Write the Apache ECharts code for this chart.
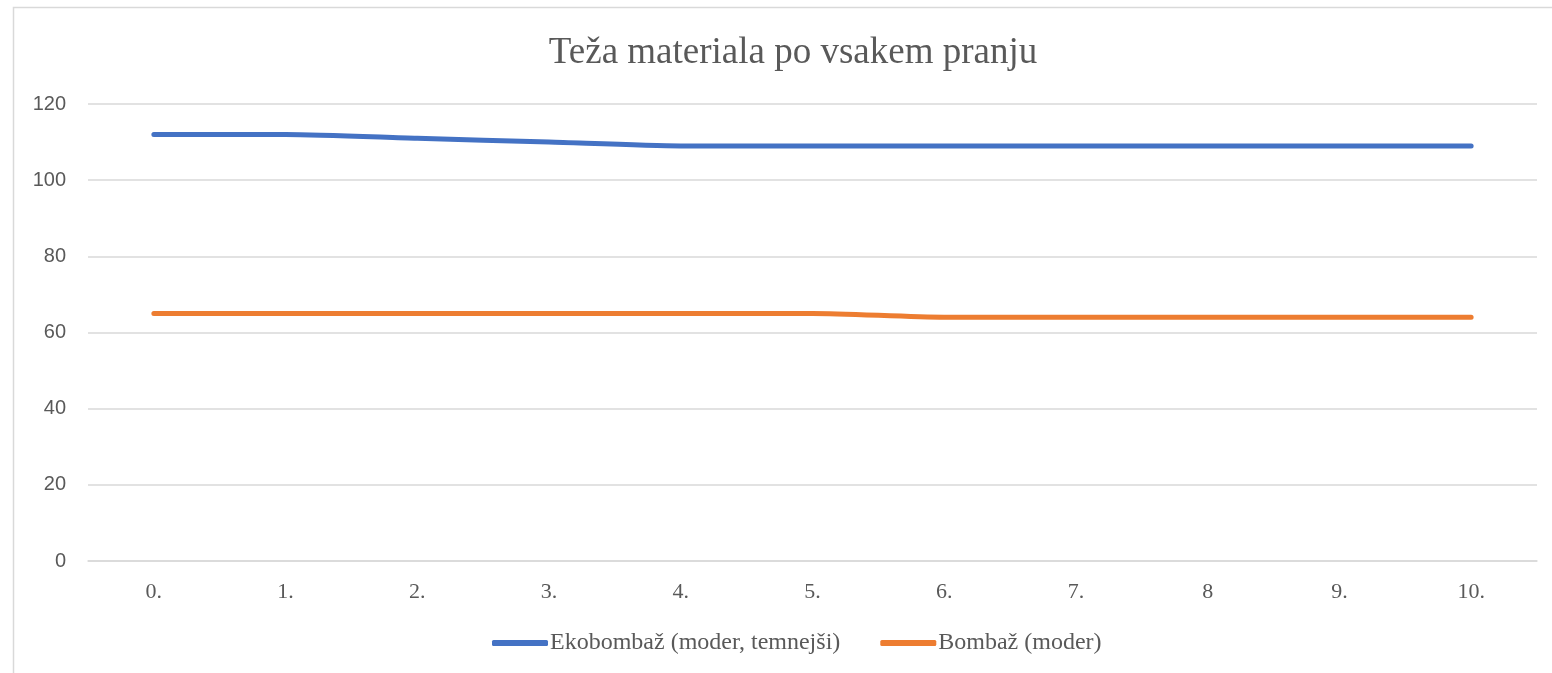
<!DOCTYPE html>
<html>
<head>
<meta charset="utf-8">
<script src="https://cdn.jsdelivr.net/npm/echarts@6/dist/echarts.min.js"></script>
<style>html,body{margin:0;padding:0;background:#fff;}#c{width:1552px;height:673px;}</style>
</head>
<body>
<div id="c"></div>
<script>
const titleText = 'Teža materiala po vsakem pranju';
const categories = ['0.', '1.', '2.', '3.', '4.', '5.', '6.', '7.', '8', '9.', '10.'];
const ekoName = 'Ekobombaž (moder, temnejši)';
const ekoValues = [112, 112, 111, 110, 109, 109, 109, 109, 109, 109, 109];
const bomName = 'Bombaž (moder)';
const bomValues = [65, 65, 65, 65, 65, 65, 64, 64, 64, 64, 64];
const yTicks = [0, 20, 40, 60, 80, 100, 120];

const chart = echarts.init(document.getElementById('c'), null, {renderer: 'canvas'});
chart.setOption({
  animation: false,
  backgroundColor: '#fff',
  graphic: [{
    type: 'rect', left: 11, top: 5,
    shape: {width: 1600, height: 700},
    style: {fill: 'none', stroke: '#d9d9d9', lineWidth: 1.5}
  }],
  title: {
    text: titleText, left: 788, top: 30, textAlign: 'center',
    textStyle: {fontFamily: 'Liberation Serif', fontSize: 37, fontWeight: 'normal', color: '#595959'}
  },
  legend: {
    bottom: 13, left: 487,
    itemWidth: 56, itemHeight: 6, itemGap: 40,
    icon: 'roundRect',
    textStyle: {fontFamily: 'Liberation Serif', fontSize: 24, color: '#595959', padding: [0,0,0,-3]},
    data: [ekoName, bomName]
  },
  grid: {left: 88, right: 15, top: 104, bottom: 112, containLabel: false},
  xAxis: {
    type: 'category', data: categories, boundaryGap: true,
    axisLine: {show: true, lineStyle: {color: '#d9d9d9', width: 1.5}},
    axisTick: {show: false},
    axisLabel: {margin: 20, fontFamily: 'Liberation Serif', fontSize: 22, color: '#595959'}
  },
  yAxis: {
    type: 'value', min: 0, max: yTicks[yTicks.length-1], interval: 20,
    axisLine: {show: false}, axisTick: {show: false},
    axisLabel: {margin: 22, fontFamily: 'Liberation Sans', fontSize: 20, color: '#595959'},
    splitLine: {lineStyle: {color: '#d9d9d9', width: 1.5}}
  },
  series: [
    {name: ekoName, type: 'line', data: ekoValues, smooth: 0.25, showSymbol: false, symbol: 'none',
     color: '#4472c4', lineStyle: {width: 5, color: '#4472c4', cap: 'round'}},
    {name: bomName, type: 'line', data: bomValues, smooth: 0.25, showSymbol: false, symbol: 'none',
     color: '#ed7d31', lineStyle: {width: 5, color: '#ed7d31', cap: 'round'}}
  ]
});
</script>
</body>
</html>
